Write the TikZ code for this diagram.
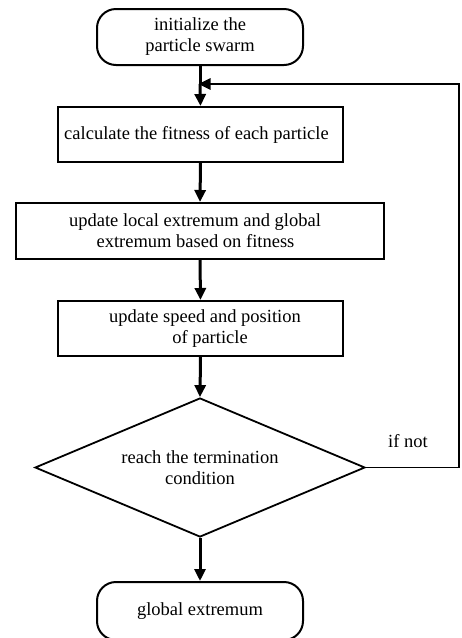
\documentclass[tikz,border=0pt]{standalone}
\usepackage{fontspec}
\setmainfont{Liberation Serif}
\usetikzlibrary{shapes.geometric,arrows.meta}
\begin{document}
\begin{tikzpicture}[x=1pt,y=-1pt,
  every node/.style={font=\fontsize{18.5}{21}\selectfont, align=center, inner sep=0pt},
  term/.style={draw, line width=2pt, rounded corners=19pt, minimum width=206pt, minimum height=56pt},
  proc/.style={draw, line width=2pt, minimum height=55pt},
  dec/.style={draw, diamond, line width=1.8pt, shape aspect=2.374, minimum width=330pt, minimum height=139pt},
  flow/.style={line width=3pt, -{Triangle[length=12pt,width=11pt]}},
  back/.style={line width=1.6pt}]
\useasboundingbox (0,0) rectangle (462,638);
\node[term] (start) at (200,37) {initialize the\\particle swarm};
\node[proc, minimum width=285pt] (b1) at (200.5,134.5) {calculate the fitness of each particle\hspace*{8pt}};
\node[proc, minimum width=368pt, minimum height=56pt] (b2) at (200,231) {update local extremum and global\hspace*{10pt}\\extremum based on fitness\hspace*{9pt}};
\node[proc, minimum width=285pt] (b3) at (200.5,328.5) {\hspace*{9pt}update speed and position\\\hspace*{19pt}of particle};
\node[dec] (d) at (200,467.5) {reach the termination\\condition};
\node[term, minimum height=58pt] (end) at (200,611) {global extremum};
\node (ifnot) at (408,441) {if not};
\coordinate (j) at (200,84);
\coordinate (c1) at (459,467.5);
\coordinate (c2) at (459,84);
\coordinate (c3) at (248,84);
\draw[line width=3pt] (start.south) -- (j);
\draw[flow] (j) -- (b1.north);
\draw[flow] (b1.south) -- (b2.north);
\draw[flow] (b2.south) -- (b3.north);
\draw[flow] (b3.south) -- (d.north);
\draw[flow] (d.south) -- (end.north);
\draw[back] (d.east) -- (c1) -- (c2) -- (c3);
\draw[line width=2.6pt, -{Triangle[length=12pt,width=11pt]}, shorten >=-1.5pt] (c3) -- (j);
\end{tikzpicture}
\end{document}
